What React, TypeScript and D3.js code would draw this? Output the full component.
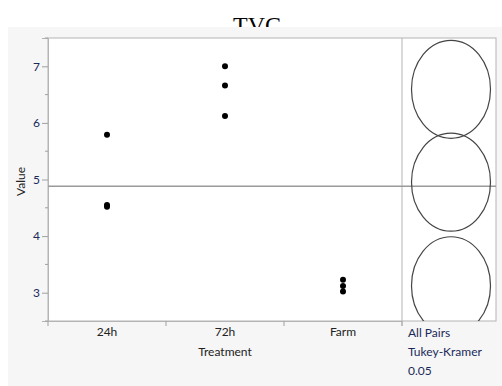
import React, { useEffect, useRef } from "react";
import * as d3 from "d3";

// data
const categories = ["24h", "72h", "Farm"];
const values24h = [5.79, 4.55, 4.52];
const values72h = [7.0, 6.66, 6.12];
const valuesFarm = [3.23, 3.12, 3.02];
const grandMean = 4.88;
const circleRadius = 0.865; // comparison circle radius, in value units
const yTicks = [3, 4, 5, 6, 7];
const footLabels = ["All Pairs", "Tukey-Kramer", "0.05"];

const W = 502;
const H = 386;

function App() {
  const ref = useRef<SVGSVGElement>(null);

  useEffect(() => {
    drawChart();
  }, []);

  function drawChart() {
    const svg = d3.select(ref.current);
    svg.selectAll("*").remove();

    const font = "Lato, 'Noto Sans', sans-serif";
    const left = 48, top = 38, right = 402, bottom = 321, circRight = 496;

    // title (the grey panel sits on top of its lower part)
    svg.append("text")
      .attr("x", 257).attr("y", 33)
      .attr("text-anchor", "middle")
      .style("font-family", "'Liberation Serif', 'Times New Roman', serif")
      .style("font-size", "24px")
      .attr("fill", "#000")
      .text("TVC");

    svg.append("rect")
      .attr("x", 8).attr("y", 27)
      .attr("width", W - 8).attr("height", H - 27)
      .attr("fill", "#f6f6f6");

    const x = d3.scaleBand().domain(categories).range([left, right]);
    const y = d3.scaleLinear().domain([2.5, 7.5]).range([bottom, top]);

    // plot areas
    svg.append("rect")
      .attr("x", left).attr("y", top)
      .attr("width", circRight - left).attr("height", bottom - top)
      .attr("fill", "#fff")
      .attr("stroke", "#b4b4b4");

    // y axis
    const yAxis = svg.append("g").attr("transform", `translate(${left},0)`);
    yAxis.call(
      d3.axisLeft(y).tickValues(yTicks).tickSize(6).tickFormat(d3.format("d")) as any
    );
    yAxis.select(".domain").attr("stroke", "#b4b4b4");
    yAxis.selectAll(".tick line").attr("stroke", "#a0a0a0");
    yAxis.selectAll(".tick text")
      .attr("x", -8)
      .style("font-family", font).style("font-size", "12px").attr("fill", "#1a2a5a");
    // minor ticks
    yAxis.selectAll("line.minor")
      .data(d3.range(2.5, 7.6, 1))
      .join("line")
      .attr("class", "minor")
      .attr("x1", -3).attr("x2", 0)
      .attr("y1", (d) => y(d)).attr("y2", (d) => y(d))
      .attr("stroke", "#a0a0a0");

    svg.append("text")
      .attr("transform", `translate(25,${(top + bottom) / 2 + 2}) rotate(-90)`)
      .attr("text-anchor", "middle")
      .style("font-family", font).style("font-size", "12px")
      .attr("fill", "#222")
      .text("Value");

    // x axis
    const xAxis = svg.append("g").attr("transform", `translate(0,${bottom})`);
    xAxis.call(d3.axisBottom(x).tickSize(0) as any);
    xAxis.select(".domain").attr("stroke", "#b4b4b4");
    xAxis.selectAll(".tick text")
      .attr("y", 6)
      .style("font-family", font).style("font-size", "12px").attr("fill", "#222");
    xAxis.selectAll("line.sep")
      .data([left, ...categories.slice(1).map((c) => x(c) as number), right])
      .join("line")
      .attr("class", "sep")
      .attr("x1", (d) => d).attr("x2", (d) => d)
      .attr("y1", 0).attr("y2", 5)
      .attr("stroke", "#a0a0a0");

    svg.append("text")
      .attr("x", (left + right) / 2).attr("y", 356)
      .attr("text-anchor", "middle")
      .style("font-family", font).style("font-size", "12px")
      .attr("fill", "#222")
      .text("Treatment");

    // panel divider
    svg.append("line")
      .attr("x1", right).attr("x2", right)
      .attr("y1", top).attr("y2", bottom + 5)
      .attr("stroke", "#b4b4b4");

    // grand mean line
    svg.append("line")
      .attr("x1", left).attr("x2", circRight)
      .attr("y1", y(grandMean)).attr("y2", y(grandMean))
      .attr("stroke", "#9a9a9a").attr("stroke-width", 1.5);

    // points
    const groups = [values24h, values72h, valuesFarm];
    const points = groups.flatMap((vals, i) =>
      vals.map((v) => ({ cat: categories[i], v }))
    );
    svg.append("g")
      .selectAll("circle")
      .data(points)
      .join("circle")
      .attr("cx", (d) => (x(d.cat) as number) + x.bandwidth() / 2)
      .attr("cy", (d) => y(d.v))
      .attr("r", 3)
      .attr("fill", "#000");

    // comparison circles
    svg.append("clipPath").attr("id", "circClip")
      .append("rect")
      .attr("x", right).attr("y", top)
      .attr("width", circRight - right).attr("height", bottom - top);
    const means = groups.map((g) => d3.mean(g) as number);
    const cx = (right + circRight) / 2 + 2;
    svg.append("g")
      .attr("clip-path", "url(#circClip)")
      .selectAll("ellipse")
      .data(means)
      .join("ellipse")
      .attr("cx", cx)
      .attr("cy", (d) => y(d))
      .attr("rx", 39.5)
      .attr("ry", (d) => y(d - circleRadius) - y(d))
      .attr("fill", "none")
      .attr("stroke", "#444")
      .attr("stroke-width", 1.2);

    // test labels
    svg.append("g")
      .selectAll("text")
      .data(footLabels)
      .join("text")
      .attr("x", right + 6)
      .attr("y", (d, i) => 337 + i * 19)
      .style("font-family", font).style("font-size", "12px")
      .attr("fill", "#1a2a5a")
      .text((d) => d);
  }

  return <svg ref={ref} width={W} height={H} style={{ display: "block", position: "absolute", left: 0, top: 0 }} />;
}

export default App;
